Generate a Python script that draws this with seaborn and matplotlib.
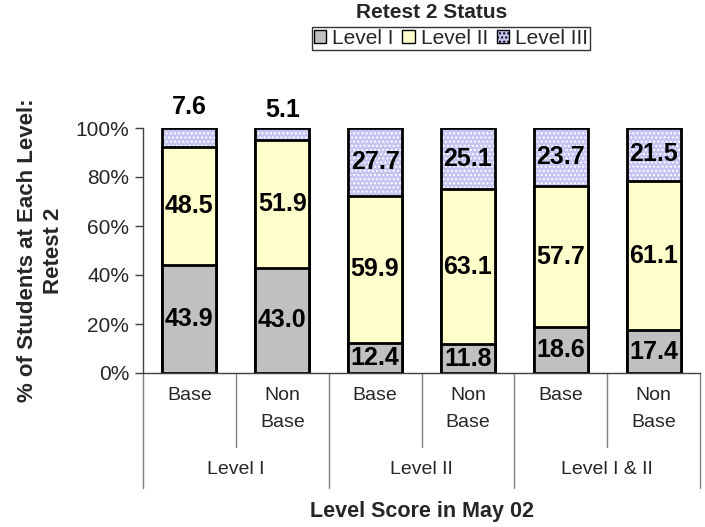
import matplotlib
matplotlib.use("Agg")
import matplotlib.pyplot as plt
import matplotlib.patches as mpatches
import seaborn as sns
import pandas as pd
import numpy as np

# ---- data ----
groups = ["Level I", "Level II", "Level I & II"]
subgroups = ["Base", "Non\nBase"]
categories = ["L1 Base", "L1 Non Base", "L2 Base", "L2 Non Base", "L12 Base", "L12 Non Base"]
tick_labels = ["Base", "Non\nBase", "Base", "Non\nBase", "Base", "Non\nBase"]
level1 = [43.9, 43.0, 12.4, 11.8, 18.6, 17.4]
level2 = [48.5, 51.9, 59.9, 63.1, 57.7, 61.1]
level3 = [7.6, 5.1, 27.7, 25.1, 23.7, 21.5]
series_names = ["Level I", "Level II", "Level III"]

c1, c2, c3 = "#C0C0C0", "#FFFFCC", "#C4C4F2"

sns.set_style("white")
plt.rcParams["font.family"] = ["Liberation Sans", "DejaVu Sans"]
plt.rcParams["hatch.linewidth"] = 1.0

df = pd.DataFrame({"cat": categories, "l1": level1, "l2": level2, "l3": level3})
df["c12"] = df["l1"] + df["l2"]
df["c123"] = df["c12"] + df["l3"]

fig = plt.figure(figsize=(7.05, 5.27), dpi=100)
ax = fig.add_axes([143 / 705, 1 - 373 / 527, (700 - 143) / 705, 245 / 527])

W = 0.58
# Level III (hatched fill, then outline)
sns.barplot(data=df, x="cat", y="c123", order=categories, color=c3, width=W,
            edgecolor="white", linewidth=0, hatch="....", saturation=1, ax=ax)
sns.barplot(data=df, x="cat", y="c123", order=categories, fill=False, width=W,
            edgecolor="black", linewidth=2, ax=ax)
# Level II
sns.barplot(data=df, x="cat", y="c12", order=categories, color=c2, width=W,
            edgecolor="black", linewidth=2, saturation=1, ax=ax)
# Level I
sns.barplot(data=df, x="cat", y="l1", order=categories, color=c1, width=W,
            edgecolor="black", linewidth=2, saturation=1, ax=ax)

# data labels
lab_kw = dict(ha="center", fontsize=18, fontweight="bold", color="black")
for i, row in df.iterrows():
    ax.text(i, row["l1"] / 2, f"{row['l1']:.1f}", va="center", **lab_kw)
    ax.text(i, row["l1"] + row["l2"] / 2, f"{row['l2']:.1f}", va="center", **lab_kw)
    if row["l3"] >= 10:
        ax.text(i, row["c12"] + row["l3"] / 2, f"{row['l3']:.1f}", va="center", **lab_kw)
    else:
        ax.text(i, row["c123"] + row["l3"] / 2, f"{row['l3']:.1f}", va="bottom", **lab_kw)

ax.set_ylim(0, 100)
ax.set_xlim(-0.5, len(categories) - 0.5)
ax.set_yticks(np.arange(0, 101, 20))
ax.set_yticklabels([f"{v}%" for v in range(0, 101, 20)], fontsize=15)
ax.tick_params(axis="y", length=6, width=1, color="#404040", direction="out", pad=4, left=True)
ax.set_xticks(range(len(categories)))
ax.set_xticklabels(tick_labels, fontsize=14, va="top", linespacing=1.75)
ax.tick_params(axis="x", length=0, pad=10)
ax.set_xlabel("")
ax.set_ylabel("% of Students at Each Level:\nRetest 2", fontsize=16, fontweight="bold",
              linespacing=1.35, labelpad=8)

for s in ["top", "right"]:
    ax.spines[s].set_visible(False)
ax.spines["left"].set_color("#404040")
ax.spines["bottom"].set_color("#404040")
ax.spines["left"].set_linewidth(1)
ax.spines["bottom"].set_linewidth(1)

# category divider lines
tr = ax.get_xaxis_transform()
h_sub = (447 - 373) / 245
h_grp = (488 - 373) / 245
for k in range(len(groups)):
    xs = 2 * k + 0.5
    ax.plot([xs, xs], [0, -h_sub], transform=tr, color="#808080", lw=1, clip_on=False)
for k in range(len(groups) + 1):
    xg = 2 * k - 0.5
    ax.plot([xg, xg], [0, -h_grp], transform=tr, color="#808080", lw=1, clip_on=False)
for k, g in enumerate(groups):
    ax.text(2 * k + 0.5, -(470 - 373) / 245, g, transform=tr, ha="center", va="center",
            fontsize=14)

ax.text(0.5, -(511 - 373) / 245, "Level Score in May 02", transform=ax.transAxes,
        ha="center", va="center", fontsize=15.5, fontweight="bold")

# legend
handles = [
    mpatches.Patch(facecolor=c1, edgecolor="black", lw=1),
    mpatches.Patch(facecolor=c2, edgecolor="black", lw=1),
    mpatches.Patch(facecolor=c3, edgecolor="black", lw=1, hatch="...."),
]
leg = fig.legend(handles, series_names, loc="upper center", ncol=3,
                 bbox_to_anchor=(451 / 705, 1 - 27 / 527), fontsize=15, frameon=True,
                 fancybox=False, handlelength=0.6, handleheight=0.6, handletextpad=0.3,
                 columnspacing=0.4, borderpad=0.1, borderaxespad=0)
leg.get_frame().set_edgecolor("black")
leg.get_frame().set_linewidth(1)
fig.text(432 / 705, 1 - 13 / 527, "Retest 2 Status", ha="center", va="center",
         fontsize=15, fontweight="bold")

fig.savefig("out.png", dpi=100)
